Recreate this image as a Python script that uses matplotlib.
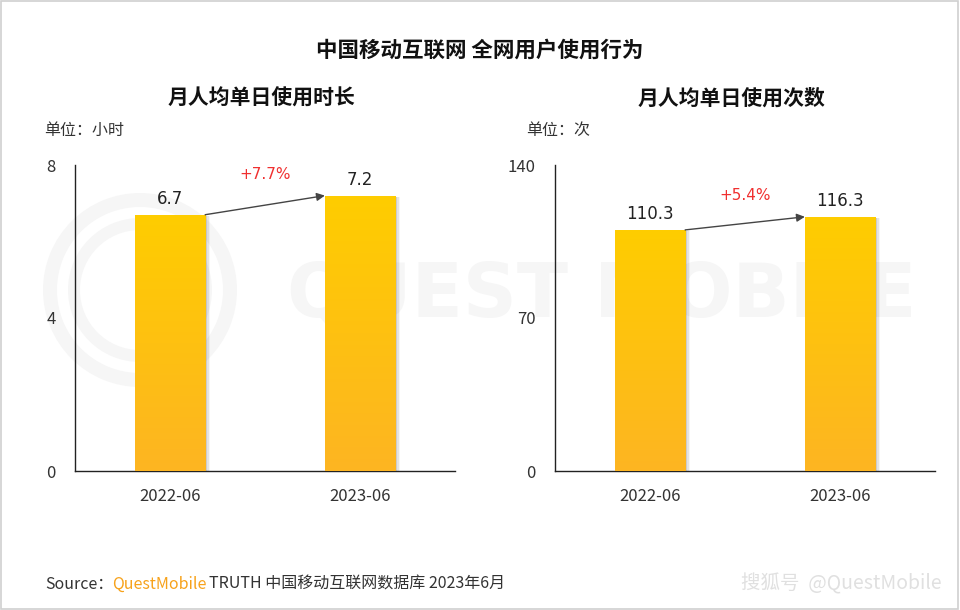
import matplotlib
matplotlib.use("Agg")
import matplotlib.pyplot as plt
import numpy as np
from matplotlib.patches import Rectangle, Wedge
from matplotlib.colors import LinearSegmentedColormap

plt.rcParams['font.family'] = ['Noto Sans CJK SC', 'DejaVu Sans']

# data
periods = ["2022-06", "2023-06"]
hours_values = [6.7, 7.2]
times_values = [110.3, 116.3]
hours_growth = "+7.7%"
times_growth = "+5.4%"
hours_ticks = [0, 4, 8]
times_ticks = [0, 70, 140]

W, H = 960, 610
fig = plt.figure(figsize=(9.6, 6.1), dpi=100)
fig.patch.set_facecolor('white')

# thin frame around the picture
fig.add_artist(Rectangle((0.001, 0.002), 0.997, 0.996, transform=fig.transFigure,
                         fill=False, edgecolor='#d0d0d0', linewidth=1.2))

# watermark (behind everything)
wm = fig.add_axes([0, 0, 1, 1], zorder=0)
wm.set_xlim(0, W)
wm.set_ylim(H, 0)
wm.set_aspect('equal')
wm.axis('off')
for r, w in [(97, 14), (72, 12)]:
    wm.add_patch(Wedge((140, 290), r, 0, 360, width=w, color='#f6f6f6', lw=0))
wm.text(602, 297, "QUEST MOBILE", fontsize=54, fontweight='bold', color='#f6f6f6',
        ha='center', va='center', family='DejaVu Sans')

bar_cmap = LinearSegmentedColormap.from_list('bar', ['#FDB522', '#FFCD00'])
grad = np.linspace(0, 1, 256).reshape(-1, 1)


def draw_panel(rect, values, ticks, growth, title, unit, title_x, unit_x):
    ax = fig.add_axes(rect, zorder=2)
    ax.patch.set_alpha(0)
    x = np.arange(len(periods))
    bw = 0.37
    ymax = ticks[-1]
    ax.set_xlim(-0.5, 1.5)
    ax.set_ylim(0, ymax)
    for xi, v in zip(x, values):
        # soft shadow on the right side
        for k, a in enumerate([0.10, 0.07, 0.04]):
            ax.add_patch(Rectangle((xi - bw / 2 + 0.012 + k * 0.008, 0), bw, v * 0.995,
                                   color='#000000', alpha=a, lw=0, zorder=2))
        bar = ax.bar(xi, v, bw, color='none', zorder=3)[0]
        im = ax.imshow(grad, cmap=bar_cmap, origin='lower', aspect='auto',
                       extent=[xi - bw / 2, xi + bw / 2, 0, v], zorder=3)
        im.set_clip_path(bar)
        ax.annotate(f"{v}", xy=(xi, v), xytext=(0, 5), textcoords='offset points',
                    ha='center', va='bottom', fontsize=12, color='#222222',
                    family=['DejaVu Sans'])
    ax.set_xlim(-0.5, 1.5)
    ax.set_ylim(0, ymax)
    ax.annotate('', xy=(1 - bw / 2, values[1]), xytext=(bw / 2, values[0]),
                arrowprops=dict(arrowstyle='-|>', color='#444444', lw=1.0,
                                mutation_scale=12, shrinkA=0, shrinkB=0), zorder=4)
    ax.text(0.5, values[1] + (ymax * 0.045), growth, color='#f03030', fontsize=11,
            ha='center', va='bottom', family=['DejaVu Sans'])
    ax.set_xticks(x)
    ax.set_xticklabels(periods, fontsize=12, color='#333333')
    ax.set_yticks(ticks)
    ax.set_yticklabels([str(t) for t in ticks], fontsize=12, color='#333333')
    ax.tick_params(length=0, pad=12)
    ax.tick_params(axis='y', pad=14)
    for s in ['top', 'right']:
        ax.spines[s].set_visible(False)
    for s in ['left', 'bottom']:
        ax.spines[s].set_color('#222222')
        ax.spines[s].set_linewidth(1.0)
    fig.text(title_x / W, 1 - 98 / H, title, ha='center', va='center',
             fontsize=15, fontweight='bold', color='#111111')
    fig.text(unit_x / W, 1 - 130 / H, unit, ha='left', va='center',
             fontsize=11.5, color='#333333')
    return ax


axh = 306 / H
draw_panel([75 / W, 1 - 471 / H, 380 / W, axh], hours_values, hours_ticks,
           hours_growth, "月人均单日使用时长", "单位：小时", 261, 44)
draw_panel([555 / W, 1 - 471 / H, 380 / W, axh], times_values, times_ticks,
           times_growth, "月人均单日使用次数", "单位：次", 731, 526)

fig.text(0.5, 1 - 50 / H, "中国移动互联网 全网用户使用行为", ha='center', va='center',
         fontsize=15.5, fontweight='bold', color='#111111')

# footer
fig.text(45 / W, 1 - 584 / H, "Source：", ha='left', va='center', fontsize=11.5, color='#333333')
fig.text(112 / W, 1 - 584 / H, "QuestMobile", ha='left', va='center', fontsize=11.5, color='#F7A21B')
fig.text(209 / W, 1 - 584 / H, "TRUTH 中国移动互联网数据库 2023年6月", ha='left', va='center',
         fontsize=11.5, color='#333333')
fig.text(942 / W, 1 - 584 / H, "搜狐号  @QuestMobile", ha='right', va='center',
         fontsize=14, color='#e0e0e0', fontstyle='italic')

fig.savefig("out.png", dpi=100)
